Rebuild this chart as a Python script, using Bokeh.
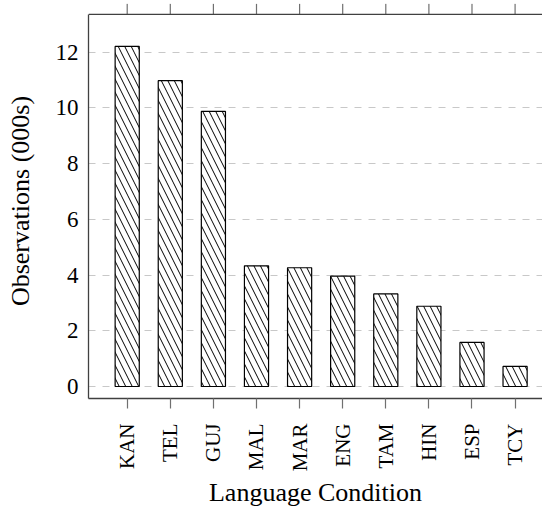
import math
from bokeh.plotting import figure
from bokeh.models import ColumnDataSource, Range1d, FixedTicker, Span
from bokeh.embed import file_html
from bokeh.resources import INLINE

categories = ["KAN", "TEL", "GUJ", "MAL", "MAR", "ENG", "TAM", "HIN", "ESP", "TCY"]
observations = [12.2, 10.97, 9.87, 4.33, 4.26, 3.96, 3.32, 2.88, 1.58, 0.72]
y_ticks = [0, 2, 4, 6, 8, 10, 12]

Y_MIN, Y_MAX = -0.43, 13.35

xs = list(range(len(categories)))
source = ColumnDataSource(data=dict(x=xs, top=observations, cat=categories))
tick_src = ColumnDataSource(data=dict(x=xs, y0=[Y_MAX] * len(xs), y1=[Y_MAX + 0.38] * len(xs)))

FONT = "Liberation Serif"
AX = "#404040"
TK = "#707070"

p = figure(width=542, height=510, output_backend="svg", toolbar_location=None,
           x_range=Range1d(-0.898, 9.636), y_range=Range1d(Y_MIN, Y_MAX + 0.39),
           min_border_left=88, min_border_right=0, min_border_top=3, min_border_bottom=109,
           x_axis_label="Language Condition", y_axis_label="Observations (000s)")
p.outline_line_color = None
p.background_fill_color = "white"
p.border_fill_color = "white"

p.xgrid.visible = False
p.ygrid.grid_line_color = "#c8c8c8"
p.ygrid.grid_line_dash = "7 7"
p.ygrid.grid_line_width = 1

p.vbar(x="x", top="top", bottom=0, width=0.56, source=source,
       fill_color="white", line_color="black", line_width=1.2,
       hatch_pattern="\\", hatch_color="black", hatch_scale=13, hatch_weight=1)

# top frame edge with outward ticks
p.add_layout(Span(location=Y_MAX, dimension="width", line_color=AX, line_width=1.3))
p.segment(x0="x", y0="y0", x1="x", y1="y1", source=tick_src, line_color=TK, line_width=1.2)

xa = p.xaxis[0]
xa.ticker = FixedTicker(ticks=xs)
xa.major_label_overrides = {i: c for i, c in zip(xs, categories)}
xa.major_label_orientation = math.pi / 2
xa.major_tick_out = 10
xa.major_tick_in = 0
xa.minor_tick_out = 0
xa.minor_tick_in = 0
xa.major_tick_line_color = TK
xa.major_tick_line_width = 1.2
xa.axis_line_color = AX
xa.axis_line_width = 1.3
xa.major_label_standoff = 15
xa.major_label_text_font = FONT
xa.major_label_text_font_size = "21px"
xa.major_label_text_color = "black"
xa.axis_label_text_font = FONT
xa.axis_label_text_font_size = "26px"
xa.axis_label_text_font_style = "normal"
xa.axis_label_text_color = "black"
xa.axis_label_standoff = 4

ya = p.yaxis[0]
ya.ticker = FixedTicker(ticks=y_ticks)
ya.bounds = (Y_MIN, Y_MAX)
ya.major_tick_out = 0
ya.major_tick_in = 0
ya.minor_tick_out = 0
ya.minor_tick_in = 0
ya.axis_line_color = AX
ya.axis_line_width = 1.3
ya.major_label_standoff = 10
ya.major_label_text_font = FONT
ya.major_label_text_font_size = "23px"
ya.major_label_text_color = "black"
ya.axis_label_text_font = FONT
ya.axis_label_text_font_size = "26px"
ya.axis_label_text_font_style = "normal"
ya.axis_label_text_color = "black"
ya.axis_label_standoff = 18

open("out.html", "w").write(file_html(p, INLINE))
